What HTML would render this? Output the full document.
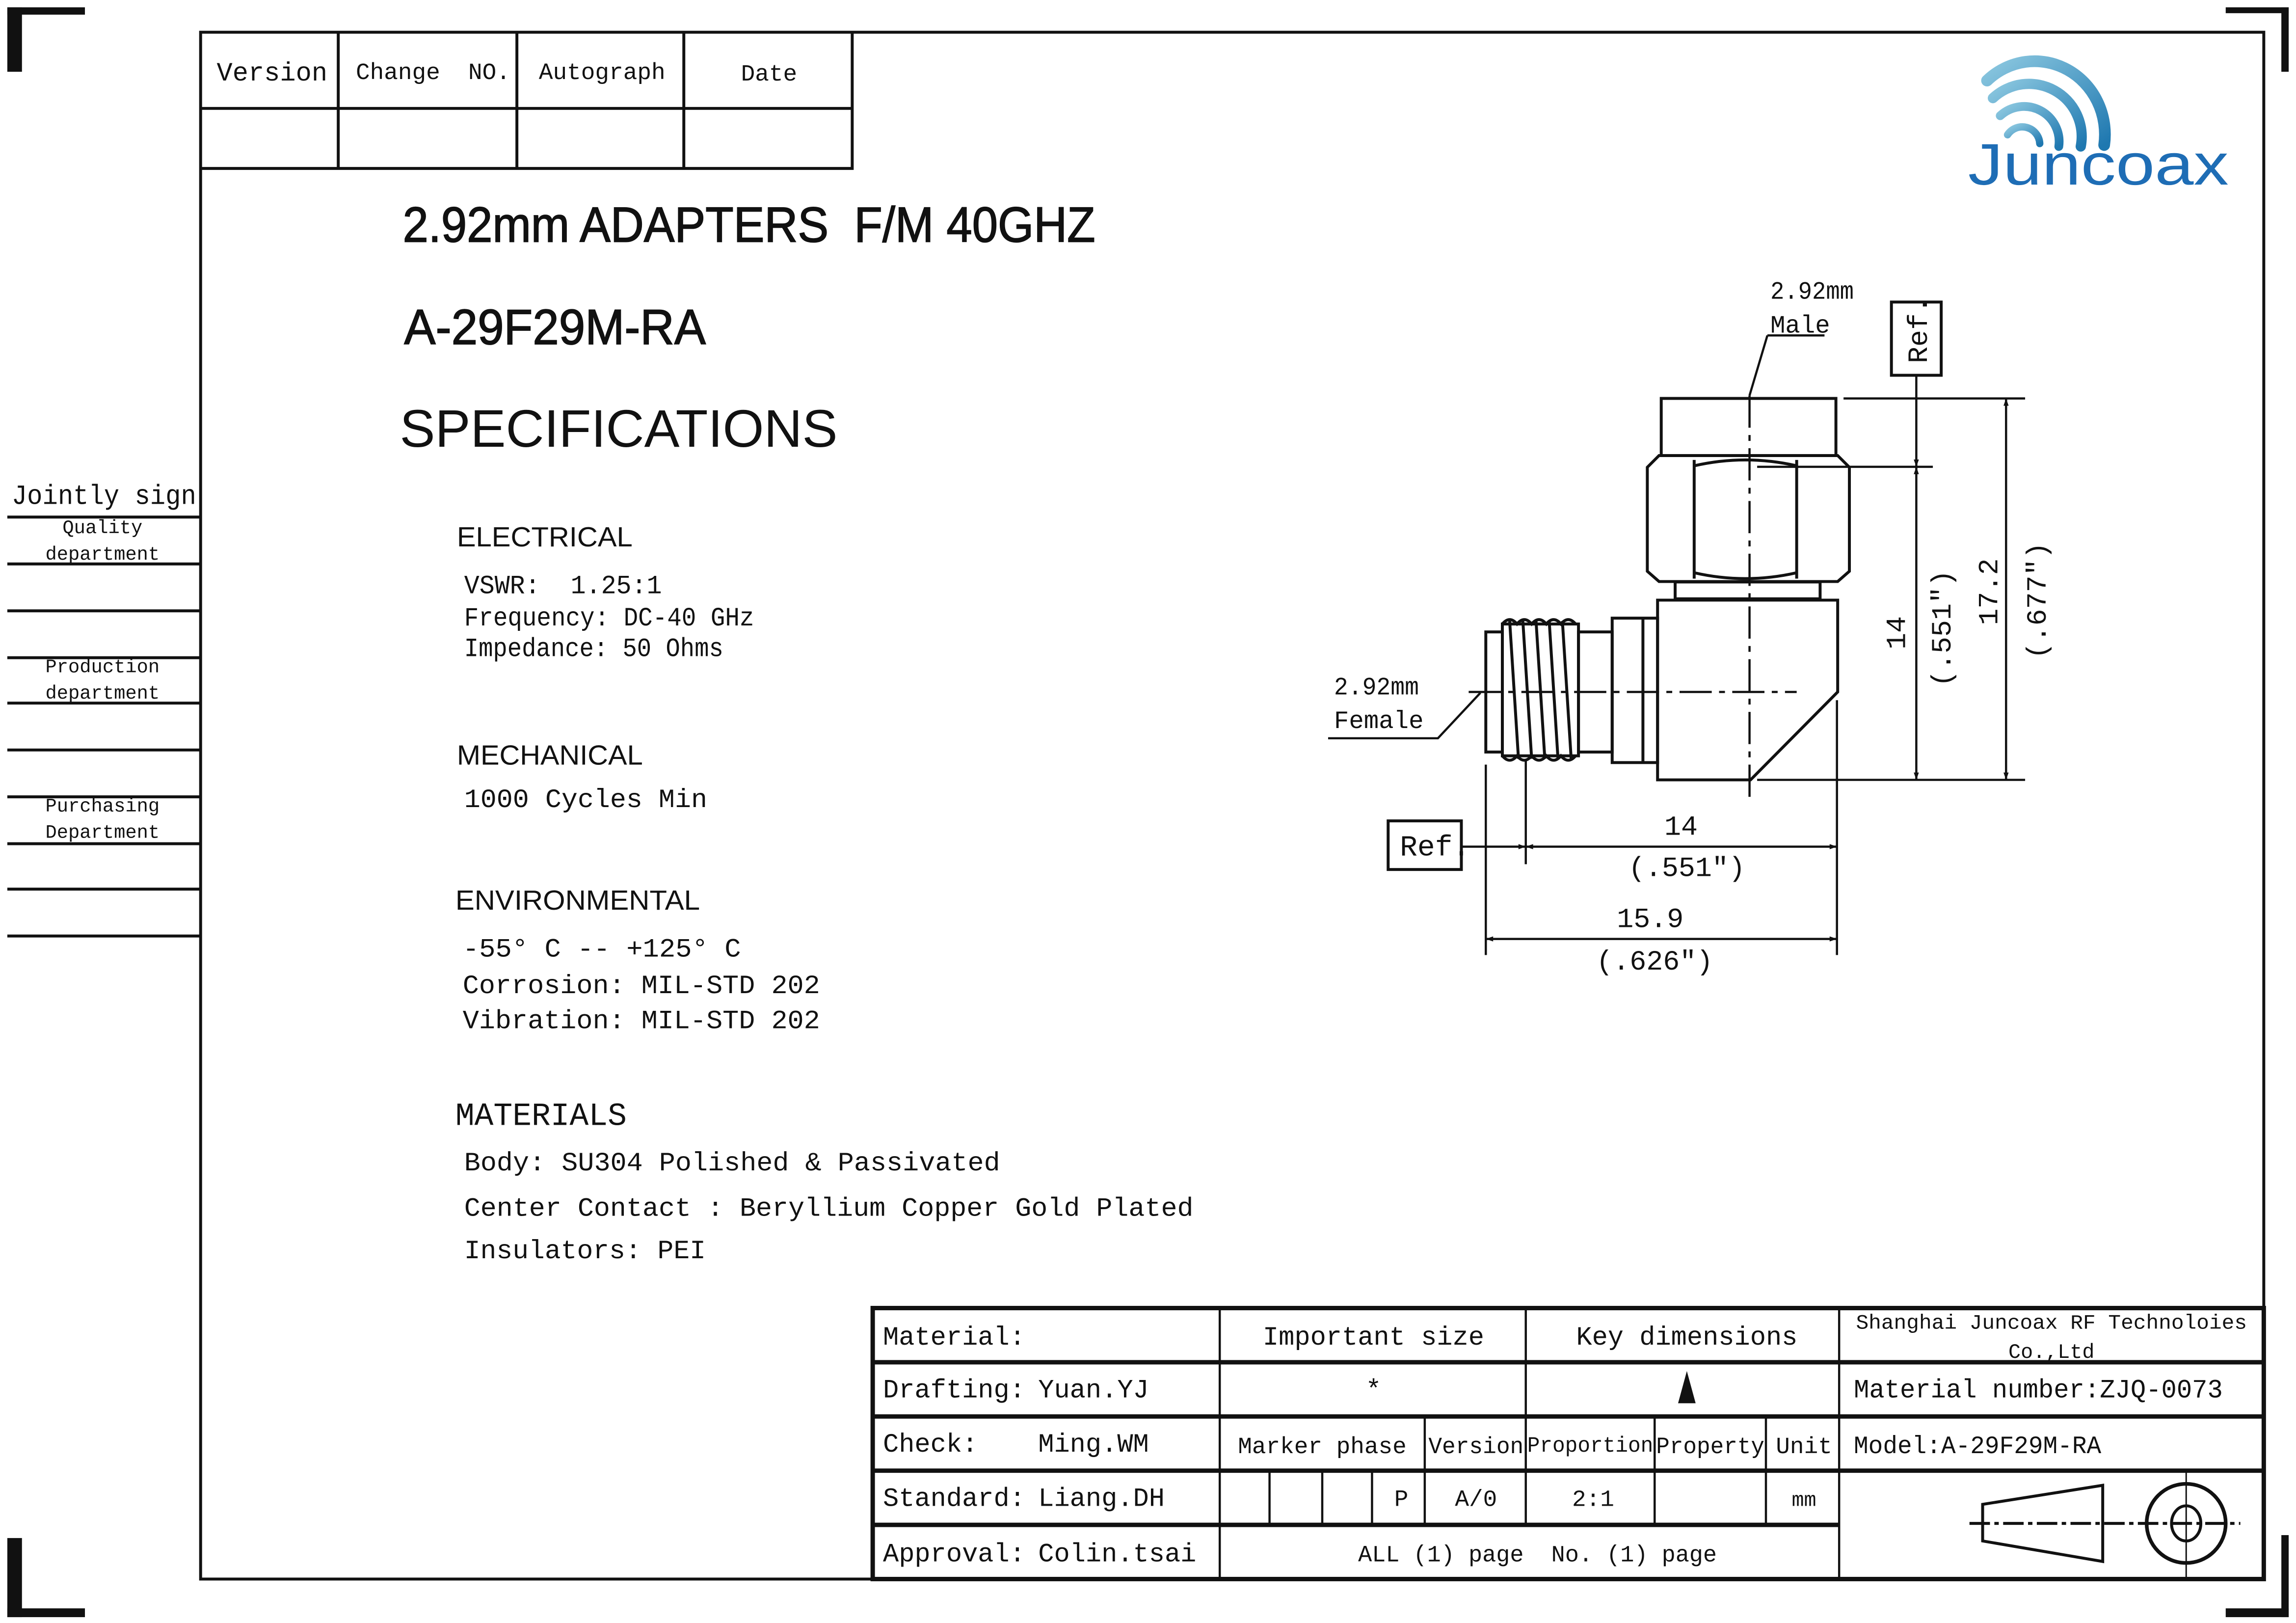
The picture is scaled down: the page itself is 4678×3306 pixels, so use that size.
<!DOCTYPE html>
<html><head><meta charset="utf-8"><style>
html,body{margin:0;padding:0;background:#fff}
svg{display:block}
.m{font-family:"Liberation Mono",monospace;fill:#111}
.s{font-family:"Liberation Sans",sans-serif;fill:#111}
</style></head><body>
<svg width="4678" height="3306" viewBox="0 0 1568 1108" preserveAspectRatio="none" xmlns="http://www.w3.org/2000/svg">
<defs>
<linearGradient id="g" x1="0" y1="0" x2="1" y2="1"><stop offset="0" stop-color="#8cc8e0"/><stop offset="1" stop-color="#1f78b0"/></linearGradient>
<marker id="a" viewBox="0 0 10 10" refX="10" refY="5" markerWidth="12" markerHeight="5" orient="auto-start-reverse" markerUnits="userSpaceOnUse"><path d="M0,1.5 L10,5 L0,8.5 Z" fill="#111"/></marker>
</defs>
<g fill="#111">
<rect x="5" y="5" width="10" height="44"/><rect x="5" y="5" width="53" height="5"/>
<rect x="1520" y="5" width="43" height="4"/><rect x="1558" y="5" width="5" height="44"/>
<rect x="5" y="1050" width="10" height="54"/><rect x="5" y="1098" width="53" height="6"/>
<rect x="1520" y="1098" width="43" height="6"/><rect x="1558" y="1048" width="5" height="56"/>
</g>
<rect x="137" y="22" width="1409" height="1056" fill="none" stroke="#111" stroke-width="2"/>
<g stroke="#111" stroke-width="2" fill="none">
<path d="M137,115 H582 V22 M137,74 H582 M231,22 V115 M353,22 V115 M467,22 V115"/>
</g>
<g class="m" font-size="18">
<text x="148" y="55">Version</text><text x="243" y="54" font-size="16" xml:space="preserve">Change  NO.</text>
<text x="368" y="54" font-size="16">Autograph</text><text x="506" y="55" font-size="16">Date</text>
</g>
<!-- logo -->
<g fill="none" stroke="url(#g)" stroke-linecap="round">
<path d="M1371,92 A12,12 0 0 1 1393,98" stroke-width="5"/>
<path d="M1366,79 A24,24 0 0 1 1406,100" stroke-width="6"/>
<path d="M1361,67 A36,36 0 0 1 1421,100" stroke-width="7"/>
<path d="M1357,55 A48,50 0 0 1 1437,99" stroke-width="8"/>
</g>
<text x="1344" y="126" font-family="Liberation Sans,sans-serif" font-size="40" fill="#1e6db5" textLength="178" lengthAdjust="spacingAndGlyphs">Juncoax</text>
<text class="m" x="8" y="344" font-size="19" textLength="126" lengthAdjust="spacingAndGlyphs">Jointly sign</text>
<g stroke="#111" stroke-width="2"><path d="M5,353H137M5,385H137M5,417H137M5,449H137M5,480H137M5,512H137M5,544H137M5,576H137M5,607H137M5,639H137"/></g>
<g class="m" font-size="13" text-anchor="middle">
<text x="70" y="364">Quality</text><text x="70" y="382">department</text>
<text x="70" y="459">Production</text><text x="70" y="477">department</text>
<text x="70" y="554">Purchasing</text><text x="70" y="572">Department</text>
</g>
<g class="s">
<text x="275" y="165" font-size="34" stroke="#111" stroke-width="0.6" textLength="473" lengthAdjust="spacingAndGlyphs" xml:space="preserve">2.92mm ADAPTERS  F/M 40GHZ</text>
<text x="276" y="235" font-size="34" stroke="#111" stroke-width="0.6" textLength="206" lengthAdjust="spacingAndGlyphs">A-29F29M-RA</text>
<text x="273" y="305" font-size="36" textLength="299" lengthAdjust="spacingAndGlyphs">SPECIFICATIONS</text>
<text x="312" y="373" font-size="19" textLength="120" lengthAdjust="spacingAndGlyphs">ELECTRICAL</text>
<text x="312" y="522" font-size="19" textLength="127" lengthAdjust="spacingAndGlyphs">MECHANICAL</text>
<text x="311" y="621" font-size="19" textLength="167" lengthAdjust="spacingAndGlyphs">ENVIRONMENTAL</text>
</g>
<g class="m" font-size="18">
<text x="317" y="405" textLength="135" lengthAdjust="spacingAndGlyphs" xml:space="preserve">VSWR:  1.25:1</text>
<text x="317" y="427" textLength="198" lengthAdjust="spacingAndGlyphs">Frequency: DC-40 GHz</text>
<text x="317" y="448" textLength="177" lengthAdjust="spacingAndGlyphs">Impedance: 50 Ohms</text>
<text x="317" y="551" textLength="166" lengthAdjust="spacingAndGlyphs">1000 Cycles Min</text>
<text x="316" y="653" textLength="190" lengthAdjust="spacingAndGlyphs">-55° C -- +125° C</text>
<text x="316" y="678" textLength="244" lengthAdjust="spacingAndGlyphs">Corrosion: MIL-STD 202</text>
<text x="316" y="702" textLength="244" lengthAdjust="spacingAndGlyphs">Vibration: MIL-STD 202</text>
<text x="311" y="768" font-size="22" textLength="117" lengthAdjust="spacingAndGlyphs">MATERIALS</text>
<text x="317" y="799" textLength="366" lengthAdjust="spacingAndGlyphs">Body: SU304 Polished &amp; Passivated</text>
<text x="317" y="830" textLength="498" lengthAdjust="spacingAndGlyphs">Center Contact : Beryllium Copper Gold Plated</text>
<text x="317" y="859" textLength="165" lengthAdjust="spacingAndGlyphs">Insulators: PEI</text>
</g>
<!-- drawing -->
<g fill="none" stroke="#111" stroke-width="2">
<rect x="1134.5" y="272" width="119.3" height="39"/>
<path d="M1133,311 H1255 L1263,319 V390 L1255,397 H1133 L1125,390 V319 Z"/>
<path d="M1157,318 Q1192,310 1227,318 M1157,391 Q1192,399 1227,391 M1157,314 V395 M1227,314 V395"/>
<rect x="1144" y="397.3" width="99" height="11.5"/>
<path d="M1132,409.7 H1255 V472.4 L1195.5,532.4 H1132 Z"/>
<rect x="1101" y="422" width="31" height="98.6"/><path d="M1122,422 V520.6"/>
<rect x="1078" y="431.4" width="23" height="82"/>
<rect x="1026" y="426" width="52" height="90"/>
<path d="M1031,424 L1037,518 M1040,424 L1046,518 M1049,424 L1055,518 M1058,424 L1064,518 M1067,424 L1073,518"/>
<path d="M1026,426 Q1031,420 1036,426 Q1041,420 1046,426 Q1051,420 1056,426 Q1061,420 1066,426 Q1071,420 1076,426 M1026,516 Q1031,522 1036,516 Q1041,522 1046,516 Q1051,522 1056,516 Q1061,522 1066,516 Q1071,522 1076,516"/>
<rect x="1014.7" y="431.4" width="11.3" height="82"/>
</g>
<g stroke="#111" stroke-width="1.5" fill="none">
<path d="M1003,472.4 H1227" stroke-dasharray="22,5,4,5"/>
<path d="M1194.8,270 V544" stroke-dasharray="22,5,4,5"/>
<path d="M1259,272 H1383 M1200,532.4 H1383 M1200,318.7 H1320"/>
<path d="M1014.7,522 V652 M1042,519 V590 M1254.5,478 V652"/>
<rect x="1291.7" y="206.2" width="34" height="50" stroke-width="2"/>
<rect x="948" y="560.4" width="50" height="33.2" stroke-width="2"/>
<path d="M1308.7,256 V318.7" marker-end="url(#a)"/>
<path d="M1308.7,318.7 V532.4" marker-start="url(#a)" marker-end="url(#a)"/>
<path d="M1370,272 V532.4" marker-start="url(#a)" marker-end="url(#a)"/>
<path d="M998,578 H1042" marker-end="url(#a)"/>
<path d="M1042,578 H1254.5" marker-start="url(#a)" marker-end="url(#a)"/>
<path d="M1014.7,641 H1254.5" marker-start="url(#a)" marker-end="url(#a)"/>
<path d="M1207,229 H1246 M1207,229 L1194.8,270" />
<path d="M907,504 H982 L1011,473"/>
</g>
<g class="m" font-size="17">
<text x="1209" y="204" textLength="57" lengthAdjust="spacingAndGlyphs">2.92mm</text>
<text x="1209" y="227">Male</text>
<text x="911" y="474" textLength="58" lengthAdjust="spacingAndGlyphs">2.92mm</text>
<text x="911" y="497">Female</text>
<text x="956" y="584" font-size="20">Ref.</text>
<text transform="translate(1316,248) rotate(-90)" font-size="19">Ref.</text>
<text x="1148" y="570" font-size="19" text-anchor="middle">14</text>
<text x="1152" y="598" font-size="19" text-anchor="middle">(.551″)</text>
<text x="1127" y="633" font-size="19" text-anchor="middle">15.9</text>
<text x="1130" y="662" font-size="19" text-anchor="middle">(.626″)</text>
<text transform="translate(1301,432) rotate(-90)" font-size="19" text-anchor="middle">14</text>
<text transform="translate(1332,429) rotate(-90)" font-size="19" text-anchor="middle">(.551″)</text>
<text transform="translate(1364,404) rotate(-90)" font-size="19" text-anchor="middle">17.2</text>
<text transform="translate(1397,410) rotate(-90)" font-size="19" text-anchor="middle">(.677″)</text>
</g>
<!-- title block -->
<g stroke="#111" fill="none">
<rect x="596" y="893" width="950" height="185" stroke-width="3"/>
<path d="M596,930H1546 M596,967H1546 M596,1004H1546 M596,1041H1256" stroke-width="3"/>
<path d="M833,893V1078 M1042,893V1041 M1256,893V1078" stroke-width="1.5"/>
<path d="M973,967V1041 M1130,967V1041 M1206,967V1041 M867,1004V1041 M903,1004V1041 M937,1004V1041" stroke-width="1.5"/>
<path d="M1354,1027 L1436,1014 V1066 L1354,1052 Z" stroke-width="2"/>
<ellipse cx="1493" cy="1040" rx="27" ry="27" stroke-width="2.5"/>
<ellipse cx="1493" cy="1040" rx="10" ry="12" stroke-width="2"/>
<path d="M1345,1040H1530" stroke-width="2" stroke-dasharray="14,3,3,3"/>
<path d="M1493,1005V1078" stroke-width="1"/>
</g>
<path d="M1152,936 L1146,958 H1158 Z" fill="#111"/>
<g class="m" font-size="18">
<text x="603" y="918">Material:</text>
<text x="938" y="918" text-anchor="middle">Important size</text>
<text x="1152" y="918" text-anchor="middle">Key dimensions</text>
<text x="1401" y="907" font-size="14" text-anchor="middle" textLength="267" lengthAdjust="spacingAndGlyphs">Shanghai Juncoax RF Technoloies</text>
<text x="1401" y="927" font-size="14" text-anchor="middle">Co.,Ltd</text>
<text x="603" y="954">Drafting:</text><text x="709" y="954">Yuan.YJ</text>
<text x="938" y="954" text-anchor="middle">*</text>
<text x="1266" y="954" textLength="252" lengthAdjust="spacingAndGlyphs">Material number:ZJQ-0073</text>
<text x="603" y="991">Check:</text><text x="709" y="991">Ming.WM</text>
<text x="903" y="992" font-size="16" text-anchor="middle">Marker phase</text>
<text x="1008" y="992" font-size="16" text-anchor="middle" textLength="65" lengthAdjust="spacingAndGlyphs">Version</text>
<text x="1086" y="991" font-size="15" text-anchor="middle" textLength="86" lengthAdjust="spacingAndGlyphs">Proportion</text>
<text x="1168" y="992" font-size="16" text-anchor="middle" textLength="74" lengthAdjust="spacingAndGlyphs">Property</text>
<text x="1232" y="992" font-size="16" text-anchor="middle">Unit</text>
<text x="1266" y="992" font-size="17" textLength="169" lengthAdjust="spacingAndGlyphs">Model:A-29F29M-RA</text>
<text x="603" y="1028">Standard:</text><text x="709" y="1028">Liang.DH</text>
<text x="957" y="1028" font-size="16" text-anchor="middle">P</text>
<text x="1008" y="1028" font-size="16" text-anchor="middle">A/0</text>
<text x="1088" y="1028" font-size="16" text-anchor="middle">2:1</text>
<text x="1232" y="1028" font-size="14" text-anchor="middle">mm</text>
<text x="603" y="1066">Approval:</text><text x="709" y="1066">Colin.tsai</text>
<text x="1050" y="1066" font-size="16" text-anchor="middle" textLength="245" lengthAdjust="spacingAndGlyphs" xml:space="preserve">ALL (1) page  No. (1) page</text>
</g>
</svg>
</body></html>
